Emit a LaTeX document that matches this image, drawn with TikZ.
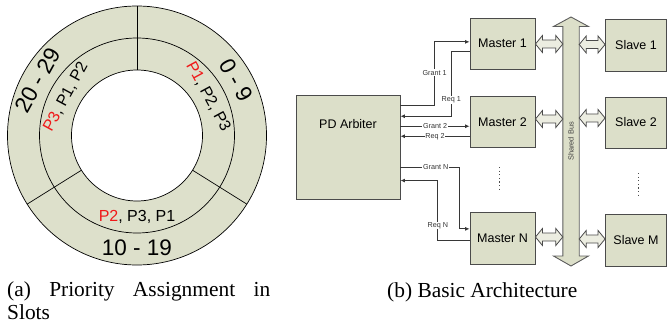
\documentclass[tikz,border=0pt]{standalone}
\usepackage{fontspec}
\setmainfont{Liberation Serif}
\newfontfamily\arialfont{Liberation Sans}
\usetikzlibrary{arrows.meta,calc}

\definecolor{slotfill}{RGB}{221,224,203}
\definecolor{boxfill}{RGB}{220,223,201}
\definecolor{edgegray}{RGB}{75,75,75}
\definecolor{wiregray}{RGB}{55,55,55}
\definecolor{pred}{RGB}{240,25,25}

\tikzset{
  ringline/.style={draw=black, line width=0.7pt},
  slotnum/.style={font=\arialfont\fontsize{22.5}{22.5}\selectfont, inner sep=0pt},
  prio/.style={font=\arialfont\fontsize{16}{16}\selectfont, inner sep=0pt},
  unit/.style={draw=edgegray, fill=boxfill, line width=0.9pt,
    font=\arialfont\fontsize{12.5}{12.5}\selectfont, inner sep=0pt},
  unittext/.style={font=\arialfont\fontsize{12.5}{12.5}\selectfont, inner sep=0pt},
  sig/.style={draw=wiregray, line width=0.8pt, -{Latex[length=4.5pt,width=4pt]}},
  siglabel/.style={font=\arialfont\fontsize{7.2}{7.2}\selectfont, fill=white,
    inner sep=0.6pt, text=black!80},
  port/.style={draw=edgegray, fill=boxfill!55!white, line width=0.8pt},
  buspath/.style={draw=edgegray!90, fill=boxfill, line width=0.9pt},
  buslabel/.style={font=\arialfont\fontsize{7.4}{7.4}\selectfont, text=black!75, inner sep=0pt},
  moredots/.style={draw=black!70, line width=1.1pt, dash pattern=on 1.1pt off 2.5pt},
  caption/.style={font=\fontsize{21.4}{23}\selectfont, inner sep=0pt},
}

% horizontal double-headed port arrow between two points at the height of the first
\newcommand\portarrow[2]{%
  \draw[port] let \p1=(#1), \p2=(#2) in
    (\x1,\y1) -- (\x1+7pt,\y1+8.5pt) -- (\x1+7pt,\y1+4pt) -- (\x2-7pt,\y1+4pt)
    -- (\x2-7pt,\y1+8.5pt) -- (\x2,\y1) -- (\x2-7pt,\y1-8.5pt) -- (\x2-7pt,\y1-4pt)
    -- (\x1+7pt,\y1-4pt) -- (\x1+7pt,\y1-8.5pt) -- cycle;}

\begin{document}
\begin{tikzpicture}[x=1pt,y=-1pt]
\useasboundingbox (0,0) rectangle (668,331);

% ---------- slot ring ----------
\begin{scope}[shift={(137,135.5)}]
\begin{scope}[y=1pt]
  \fill[slotfill, even odd rule] (0,0) circle[radius=129.5] (0,0) circle[radius=65.5];
  \draw[ringline] (0,0) circle[radius=129.5];
  \draw[ringline] (0,0) circle[radius=97.5];
  \draw[ringline] (0,0) circle[radius=65.5];
  \draw[ringline] (90:65.5) -- (90:129.5);
  \draw[ringline] (-32:65.5) -- (-32:129.5);
  \draw[ringline] (212:65.5) -- (212:129.5);

  \node[slotnum, rotate=61]  (slotA) at (151:113.5) {20 - 29};
  \node[slotnum, rotate=-61] (slotB) at (29:113.5) {0 - 9};
  \node[slotnum]             (slotC) at (270:112.5) {10 - 19};

  \node[prio, rotate=61.5]  (prioA) at (151.5:81) {\textcolor{pred}{P3}, P1, P2};
  \node[prio, rotate=-61.5] (prioB) at (28.5:81) {\textcolor{pred}{P1}, P2, P3};
  \node[prio]               (prioC) at (270:81.5) {\textcolor{pred}{P2}, P3, P1};
\end{scope}
\end{scope}

% ---------- architecture ----------
\node[unit, minimum width=104pt, minimum height=104pt] (arb) at (348,147) {};
\node[unittext] (arbtxt) at (348,124) {PD Arbiter};

\node[unit, minimum width=65pt, minimum height=51pt]   (m1) at (502.5,43.5)  {Master 1};
\node[unit, minimum width=65pt, minimum height=50.5pt] (m2) at (502.5,121.75) {Master 2};
\node[unit, minimum width=65pt, minimum height=52pt]   (mN) at (502.5,238)   {Master N};

\node[unit, minimum width=61pt, minimum height=52pt]   (s1) at (636,45)    {Slave 1};
\node[unit, minimum width=61pt, minimum height=51pt]   (s2) at (636,122.5) {Slave 2};
\node[unit, minimum width=61pt, minimum height=52pt]   (sM) at (636,240)   {Slave M};

% shared bus
\coordinate (bustop) at (571,17);
\coordinate (busbot) at (571,266);
\coordinate (busL) at (562.8,0);
\coordinate (busR) at (579.2,0);
\draw[buspath] (bustop) -- (588.5,26.5) -- (579.2,26.5) -- (579.2,256) -- (588.5,256)
  -- (busbot) -- (553.5,256) -- (562.8,256) -- (562.8,26.5) -- (553.5,26.5) -- cycle;
\node[buslabel, rotate=90] (buslbl) at (571,141.5) {Shared Bus};

% ports onto the bus
\coordinate (pm1) at (535,44);
\coordinate (pm2) at (535,119);
\coordinate (pmN) at (535,237);
\coordinate (ps1) at (605.5,44.5);
\coordinate (ps2) at (605.5,118);
\coordinate (psM) at (605.5,239);
\portarrow{pm1 -| m1.east}{pm1 -| busL}
\portarrow{pm2 -| m2.east}{pm2 -| busL}
\portarrow{pmN -| mN.east}{pmN -| busL}
\portarrow{ps1 -| busR}{ps1 -| s1.west}
\portarrow{ps2 -| busR}{ps2 -| s2.west}
\portarrow{psM -| busR}{psM -| sM.west}

% continuation dots
\coordinate (mdotA) at (499.3,167);
\coordinate (mdotB) at (499.3,189);
\coordinate (sdotA) at (638.3,173);
\coordinate (sdotB) at (638.3,195);
\draw[moredots] (mdotA) -- (mdotB);
\draw[moredots] (sdotA) -- (sdotB);

% grant / request wires
\coordinate (g1s) at ([yshift=-10.7pt]arb.north east);
\coordinate (g1e) at ([yshift=-24.3pt]m1.north west);
\draw[sig] (g1s) -| ([xshift=-35pt]g1e) node[siglabel, pos=0.758] {Grant 1} -- (g1e);

\coordinate (r1s) at ([yshift=-33.7pt]m1.north west);
\coordinate (r1e) at ([yshift=-21.7pt]arb.north east);
\draw[sig] (r1s) -- ([xshift=-18.3pt]r1s) |- (r1e) node[siglabel, pos=0.377] {Req 1};

\coordinate (g2s) at ([yshift=-31.7pt]arb.north east);
\draw[sig] (g2s) -- (g2s -| m2.west) node[siglabel, midway] {Grant 2};

\coordinate (r2e) at ([yshift=-41.7pt]arb.north east);
\draw[sig] (r2e -| m2.west) -- (r2e) node[siglabel, midway] {Req 2};

\coordinate (gNs) at ([yshift=-72.7pt]arb.north east);
\coordinate (gNe) at ([yshift=-17.3pt]mN.north west);
\draw[sig] (gNs) -| ([xshift=-10.3pt]gNe) node[siglabel, pos=0.299] {Grant N} -- (gNe);

\coordinate (rNs) at ([yshift=-28.7pt]mN.north west);
\coordinate (rNe) at ([yshift=-86pt]arb.north east);
\draw[sig] (rNs) -- ([xshift=-31.7pt]rNs) |- (rNe) node[siglabel, pos=0.123] {Req N};

% ---------- captions ----------
\node[caption, text width=263pt, align=justify, anchor=north west] (capa) at (7,281)
  {(a) Priority Assignment in\linebreak Slots};
\node[caption, anchor=base west] (capb) at (387,297) {(b) Basic Architecture};
\end{tikzpicture}
\end{document}
